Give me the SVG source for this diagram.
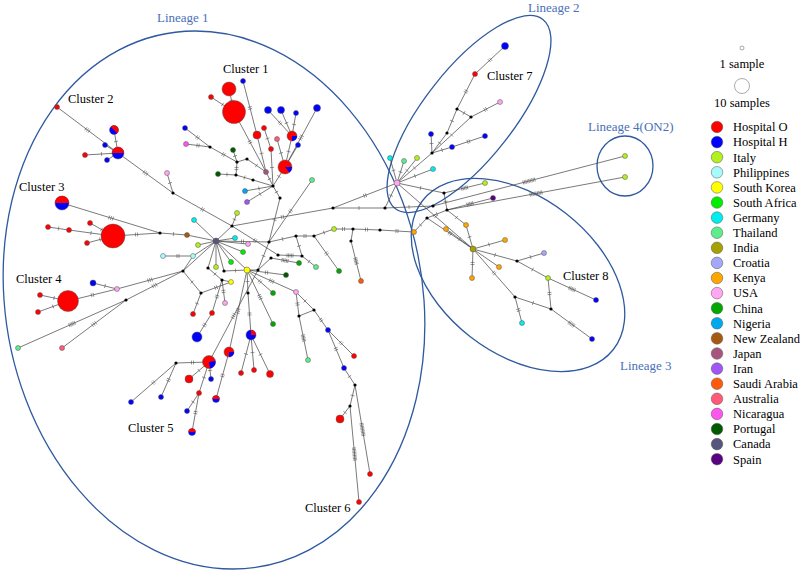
<svg xmlns="http://www.w3.org/2000/svg" width="800" height="571" viewBox="0 0 800 571">
<style>
text{font-family:"Liberation Serif","Times New Roman",serif;font-size:12.5px;fill:#000}
.lin{fill:#4a70b8;font-size:13px}
.ell{fill:none;stroke:#2f5aa0;stroke-width:1.3}
.e{fill:none;stroke:#404040;stroke-width:.7}
.t1{marker-mid:url(#k1)}.t2{marker-mid:url(#k2)}.t3{marker-mid:url(#k3)}.t4{marker-mid:url(#k4)}.t7{marker-mid:url(#k7)}
circle{stroke:#555;stroke-width:.5}
.m{fill:#000;stroke:none}
.ho{fill:#ff0000}.hh{fill:#0000ff}.it{fill:#b2f020}.ph{fill:#a8fafa}.sk{fill:#ffff00}.sa{fill:#00ee00}.ge{fill:#00eeee}.th{fill:#5eec8c}.in{fill:#a6a000}.cr{fill:#a4a8f8}.ke{fill:#ffa500}.us{fill:#ffa6f0}.cn{fill:#00a800}.ng{fill:#00a8f0}.nz{fill:#a65a10}.jp{fill:#a8557d}.ir{fill:#a055f5}.sd{fill:#ff5a0a}.au{fill:#ff5a78}.ni{fill:#ff55f0}.pt{fill:#005a00}.ca{fill:#55557d}.es{fill:#5a0082}
.pr{fill:#ff0000;stroke:none}.pb{fill:#0000ff;stroke:none}
</style>
<defs>
<marker id="k1" markerUnits="userSpaceOnUse" orient="auto" overflow="visible" markerWidth="1" markerHeight="1"><path d="M0,-2V2" stroke="#555" stroke-width=".6"/></marker>
<marker id="k2" markerUnits="userSpaceOnUse" orient="auto" overflow="visible" markerWidth="1" markerHeight="1"><path d="M-1,-2V2M1,-2V2" stroke="#555" stroke-width=".6"/></marker>
<marker id="k3" markerUnits="userSpaceOnUse" orient="auto" overflow="visible" markerWidth="1" markerHeight="1"><path d="M-2,-2V2M0,-2V2M2,-2V2" stroke="#555" stroke-width=".6"/></marker>
<marker id="k4" markerUnits="userSpaceOnUse" orient="auto" overflow="visible" markerWidth="1" markerHeight="1"><path d="M-3,-2V2M-1.5,-2V2M0,-2V2M1.5,-2V2M3,-2V2" stroke="#555" stroke-width=".6"/></marker>
<marker id="k7" markerUnits="userSpaceOnUse" orient="auto" overflow="visible" markerWidth="1" markerHeight="1"><path d="M-6,-2V2M-4.5,-2V2M-3,-2V2M-1.5,-2V2M0,-2V2M1.5,-2V2M3,-2V2M4.5,-2V2M6,-2V2" stroke="#555" stroke-width=".6"/></marker>
</defs>
<rect width="800" height="571" fill="#fff"/>
<g id="lineages">
<ellipse class="ell" cx="0" cy="0" rx="210" ry="269" transform="translate(214,300) skewX(4)"/>
<ellipse class="ell" cx="0" cy="0" rx="120" ry="45" transform="translate(469,114) rotate(-52)"/>
<ellipse class="ell" cx="0" cy="0" rx="121" ry="78" transform="translate(518,275) rotate(38)"/>
<ellipse class="ell" cx="625" cy="166" rx="28" ry="30"/>
<text class="lin" x="157" y="22">Lineage 1</text>
<text class="lin" x="528" y="12">Lineage 2</text>
<text class="lin" x="620" y="370">Lineage 3</text>
<text class="lin" x="588" y="131">Lineage 4(ON2)</text>
</g>
<g id="connectors">
<path class="e t3" d="M57 107L87.5 130L118 153"/>
<path class="e t1" d="M114 130L116 141.5L118 153"/>
<path class="e" d="M105 145L118 153"/>
<path class="e t1" d="M85 155L101.5 154L118 153"/>
<path class="e" d="M107 160L118 153"/>
<path class="e t3" d="M118 153L145.5 173L173 193"/>
<path class="e t1" d="M167 173L170 183L173 193"/>
<path class="e t2" d="M173 193L202.5 209.5L232 226"/>
<path class="e t3" d="M62 203L111 218L160 233"/>
<path class="e t1" d="M48 227L58.5 228.5L69 230"/>
<path class="e t1" d="M69 230L91 233L113 236"/>
<path class="e t1" d="M90 223L101.5 229.5L113 236"/>
<path class="e t1" d="M87 243L100 239.5L113 236"/>
<path class="e t2" d="M113 236L136.5 234.5L160 233"/>
<path class="e t1" d="M160 233L173.5 234L187 235"/>
<path class="e" d="M187 235L216 241"/>
<path class="e" d="M216 241L194 220M216 241L198 245M216 241L193 256M216 241L216 267M216 241L231 262M216 241L243 252M216 241L248 244M216 241L235 238M216 241L232 226M216 241L183 271M216 241L208 268M216 241L224 271M216 241L247 270"/>
<path class="e t2" d="M193 256L178 256L163 256"/>
<path class="e t2" d="M216 241L242.5 241.5L269 242"/>
<path class="e t1" d="M40 295L54 298L68 301"/>
<path class="e t1" d="M38 312L53 306.5L68 301"/>
<path class="e t2" d="M68 301L92.5 295L117 289"/>
<path class="e t1" d="M93 283L105 286L117 289"/>
<path class="e t3" d="M117 289L150 280L183 271"/>
<path class="e t4" d="M18 348L72 324L126 300"/>
<path class="e t3" d="M62 348L94 324L126 300"/>
<path class="e t3" d="M126 300L154.5 285.5L183 271"/>
<path class="e" d="M183 271L193 256"/>
<path class="e t1" d="M183 271L192 282L201 293"/>
<path class="e t1" d="M201 293L197 303.5L193 314"/>
<path class="e t2" d="M201 293L216 287.5L231 282"/>
<path class="e t1" d="M208 268L215 274L222 280"/>
<path class="e" d="M222 280L231 282"/>
<path class="e t2" d="M222 280L223.5 291.5L225 303"/>
<path class="e t2" d="M222 280L217 296.5L212 313"/>
<path class="e t2" d="M212 313L204.5 325L197 337"/>
<path class="e t1" d="M247 270L235.5 270.5L224 271"/>
<path class="e" d="M247 270L258 270"/>
<path class="e t1" d="M247 270L247.5 281.5L248 293"/>
<path class="e t2" d="M247 270L260 281.5L273 293"/>
<path class="e t3" d="M247 270L271.5 281L296 292"/>
<path class="e t2" d="M247 270L266.5 272.5L286 275"/>
<path class="e t3" d="M247 270L260 297L273 324"/>
<path class="e t2" d="M248 293L249.5 314L251 335"/>
<path class="e t1" d="M258 270L263.5 256L269 242"/>
<path class="e t3" d="M247 270L238 311L229 352"/>
<path class="e t3" d="M258 270L233.5 316L209 362"/>
<path class="e t2" d="M232 226L255 240.5L278 255"/>
<path class="e t4" d="M278 255L290 255.5L302 256"/>
<path class="e t1" d="M302 256L309 261.5L316 267"/>
<path class="e" d="M258 270L271 258"/>
<path class="e t4" d="M271 258L285 260.5L299 263"/>
<path class="e t1" d="M269 242L282.5 239L296 236"/>
<path class="e t2" d="M296 236L305 236L314 236"/>
<path class="e t1" d="M314 236L324 232.5L334 229"/>
<path class="e t2" d="M334 229L343.5 229L353 229"/>
<path class="e t1" d="M296 236L299 246L302 256"/>
<path class="e t2" d="M314 236L326.5 253.5L339 271"/>
<path class="e" d="M353 229L351 241"/>
<path class="e t4" d="M351 241L356 261L361 281"/>
<path class="e t2" d="M353 229L366.5 229.5L380 230"/>
<path class="e t2" d="M380 230L397 231L414 232"/>
<path class="e t2" d="M232 226L282.5 217L333 208"/>
<path class="e t2" d="M333 208L365 195.5L397 183"/>
<path class="e t1" d="M333 208L359 208L385 208"/>
<path class="e t1" d="M385 208L391 195.5L397 183"/>
<path class="e t1" d="M385 208L409 207L433 206"/>
<path class="e t1" d="M414 232L420.5 225L427 218"/>
<path class="e t1" d="M229 89L231.5 100.5L234 112"/>
<path class="e t1" d="M211 97L222.5 104.5L234 112"/>
<path class="e t2" d="M234 112L250 142L266 172"/>
<path class="e t2" d="M243 81L250 108L257 135"/>
<path class="e t1" d="M257 135L261.5 153.5L266 172"/>
<path class="e t1" d="M264 128L267.5 138.5L271 149"/>
<path class="e t1" d="M271 149L272 167.5L273 186"/>
<path class="e t1" d="M277 139L281 153L285 167"/>
<path class="e t2" d="M268 110L280 123L292 136"/>
<path class="e t1" d="M281 110L286.5 123L292 136"/>
<path class="e t1" d="M296 113L294 124.5L292 136"/>
<path class="e t1" d="M292 136L288.5 151.5L285 167"/>
<path class="e" d="M298 145L285 167"/>
<path class="e t3" d="M317 108L301 137.5L285 167"/>
<path class="e t1" d="M266 172L269.5 179L273 186"/>
<path class="e t1" d="M285 167L279 176.5L273 186"/>
<path class="e" d="M273 186L253 180"/>
<path class="e t1" d="M253 180L244.5 177.5L236 175"/>
<path class="e t1" d="M236 175L227 174.5L218 174"/>
<path class="e t2" d="M236 175L236.5 168.5L237 162"/>
<path class="e t2" d="M237 162L223.5 154.5L210 147"/>
<path class="e t2" d="M210 147L197.5 137.5L185 128"/>
<path class="e t2" d="M210 147L198 145.5L186 144"/>
<path class="e t1" d="M237 162L235 156L233 150"/>
<path class="e" d="M237 162L247 159"/>
<path class="e t1" d="M247 159L256.5 165.5L266 172"/>
<path class="e t1" d="M273 186L259 188.5L245 191"/>
<path class="e t1" d="M273 186L260 194L247 202"/>
<path class="e t1" d="M273 186L276.5 192L280 198"/>
<path class="e t1" d="M280 198L274.5 220L269 242"/>
<path class="e t2" d="M312 180L290.5 211L269 242"/>
<path class="e t1" d="M237 213L234.5 219.5L232 226"/>
<path class="e t2" d="M296 292L297.5 304L299 316"/>
<path class="e t1" d="M296 292L305 301L314 310"/>
<path class="e" d="M299 316L314 310"/>
<path class="e t4" d="M299 316L303.5 338L308 360"/>
<path class="e t2" d="M314 310L321 320L328 330"/>
<path class="e t2" d="M328 330L341 343L354 356"/>
<path class="e t2" d="M328 330L336 349L344 368"/>
<path class="e t1" d="M344 368L349.5 376.5L355 385"/>
<path class="e t1" d="M355 385L352.5 395.5L350 406"/>
<path class="e t1" d="M350 406L345 412.5L340 419"/>
<path class="e t7" d="M350 406L354.5 454L359 502"/>
<path class="e t7" d="M355 385L362.5 429.5L370 474"/>
<path class="e t1" d="M251 335L246 354L241 373"/>
<path class="e t1" d="M251 335L252.5 352.5L254 370"/>
<path class="e t1" d="M251 335L260.5 354.5L270 374"/>
<path class="e t2" d="M229 352L222.5 375.5L216 399"/>
<path class="e t2" d="M209 362L192.5 362.5L176 363"/>
<path class="e t2" d="M176 363L153.5 382.5L131 402"/>
<path class="e t2" d="M176 363L168.5 380L161 397"/>
<path class="e t1" d="M209 362L199 370.5L189 379"/>
<path class="e t1" d="M209 362L210 370.5L211 379"/>
<path class="e t1" d="M209 362L204 377.5L199 393"/>
<path class="e t1" d="M199 393L193 402L187 411"/>
<path class="e t2" d="M199 393L195.5 412.5L192 432"/>
<path class="e t1" d="M397 183L393.5 170.5L390 158"/>
<path class="e t1" d="M397 183L400.5 172L404 161"/>
<path class="e t1" d="M397 183L407 170.5L417 158"/>
<path class="e t1" d="M397 183L415 176L433 169"/>
<path class="e t1" d="M397 183L414.5 168L432 153"/>
<path class="e t1" d="M432 153L431.5 143.5L431 134"/>
<path class="e t1" d="M432 153L442 150L452 147"/>
<path class="e t2" d="M452 147L468.5 141.5L485 136"/>
<path class="e t1" d="M432 153L439.5 143L447 133"/>
<path class="e t1" d="M447 133L452 121L457 109"/>
<path class="e t1" d="M432 153L451.5 135L471 117"/>
<path class="e t1" d="M457 109L464 113L471 117"/>
<path class="e t2" d="M471 117L485.5 109.5L500 102"/>
<path class="e t2" d="M457 109L466 91.5L475 74"/>
<path class="e t2" d="M475 74L490 60L505 46"/>
<path class="e t1" d="M397 183L420.5 188L444 193"/>
<path class="e t4" d="M444 193L464.5 188L485 183"/>
<path class="e t1" d="M444 193L445.5 201.5L447 210"/>
<path class="e t4" d="M447 210L470 204L493 198"/>
<path class="e t7" d="M433 206L529 181L625 156"/>
<path class="e t7" d="M447 210L536 193.5L625 177"/>
<path class="e t2" d="M397 183L435 216L473 249"/>
<path class="e t2" d="M427 218L450 233.5L473 249"/>
<path class="e t1" d="M446 229L459.5 239L473 249"/>
<path class="e t1" d="M447 210L456.5 217.5L466 225"/>
<path class="e t1" d="M466 225L469.5 237L473 249"/>
<path class="e t1" d="M473 249L489 244.5L505 240"/>
<path class="e" d="M473 249L499 267"/>
<path class="e t2" d="M473 249L472.5 263.5L472 278"/>
<path class="e t1" d="M473 249L495 255L517 261"/>
<path class="e t2" d="M473 249L494 273L515 297"/>
<path class="e t1" d="M517 261L530.5 257L544 253"/>
<path class="e t1" d="M517 261L532.5 269.5L548 278"/>
<path class="e t4" d="M548 278L572 289L596 300"/>
<path class="e t2" d="M548 278L549.5 293.5L551 309"/>
<path class="e t2" d="M515 297L518.5 310L522 323"/>
<path class="e t1" d="M515 297L533 303L551 309"/>
<path class="e t4" d="M551 309L571.5 324L592 339"/>
<path class="e t1" d="M427 218L437 214L447 210"/>
</g>
<g id="medians">
<circle class="m" cx="173" cy="193" r="1.6"/><circle class="m" cx="232" cy="226" r="1.6"/><circle class="m" cx="160" cy="233" r="1.6"/><circle class="m" cx="126" cy="300" r="1.6"/><circle class="m" cx="183" cy="271" r="1.6"/><circle class="m" cx="201" cy="293" r="1.6"/><circle class="m" cx="208" cy="268" r="1.6"/><circle class="m" cx="222" cy="280" r="1.6"/><circle class="m" cx="224" cy="271" r="1.6"/><circle class="m" cx="258" cy="270" r="1.6"/><circle class="m" cx="248" cy="293" r="1.6"/><circle class="m" cx="278" cy="255" r="1.6"/><circle class="m" cx="302" cy="256" r="1.6"/><circle class="m" cx="271" cy="258" r="1.6"/><circle class="m" cx="269" cy="242" r="1.6"/><circle class="m" cx="296" cy="236" r="1.6"/><circle class="m" cx="314" cy="236" r="1.6"/><circle class="m" cx="353" cy="229" r="1.6"/><circle class="m" cx="351" cy="241" r="1.6"/><circle class="m" cx="380" cy="230" r="1.6"/><circle class="m" cx="333" cy="208" r="1.6"/><circle class="m" cx="385" cy="208" r="1.6"/><circle class="m" cx="210" cy="147" r="1.6"/><circle class="m" cx="237" cy="162" r="1.6"/><circle class="m" cx="247" cy="159" r="1.6"/><circle class="m" cx="236" cy="175" r="1.6"/><circle class="m" cx="253" cy="180" r="1.6"/><circle class="m" cx="273" cy="186" r="1.6"/><circle class="m" cx="280" cy="198" r="1.6"/><circle class="m" cx="299" cy="316" r="1.6"/><circle class="m" cx="314" cy="310" r="1.6"/><circle class="m" cx="355" cy="385" r="1.6"/><circle class="m" cx="350" cy="406" r="1.6"/><circle class="m" cx="176" cy="363" r="1.6"/><circle class="m" cx="432" cy="153" r="1.6"/><circle class="m" cx="447" cy="133" r="1.6"/><circle class="m" cx="457" cy="109" r="1.6"/><circle class="m" cx="471" cy="117" r="1.6"/><circle class="m" cx="444" cy="193" r="1.6"/><circle class="m" cx="433" cy="206" r="1.6"/><circle class="m" cx="447" cy="210" r="1.6"/><circle class="m" cx="427" cy="218" r="1.6"/><circle class="m" cx="517" cy="261" r="1.6"/><circle class="m" cx="515" cy="297" r="1.6"/><circle class="m" cx="551" cy="309" r="1.6"/>
</g>
<g id="nodes">
<g id="c2a"><circle class="ho" cx="57" cy="107" r="2.5"/></g>
<g id="c2p1"><circle class="hh" cx="114" cy="130" r="4.5"/><path class="pr" d="M110.8 126.8A4.5 4.5 0 0 1 117.2 133.2Z"/></g>
<g id="c2b"><circle class="hh" cx="105" cy="145" r="2.5"/></g>
<g id="c2r"><circle class="ho" cx="85" cy="155" r="2.5"/></g>
<g id="c2bb"><circle class="hh" cx="107" cy="160" r="2.5"/></g>
<g id="c2c"><circle class="hh" cx="118" cy="153" r="6"/><path class="pr" d="M112 153A6 6 0 0 1 124 153Z"/></g>
<g id="pk1"><circle class="us" cx="167" cy="173" r="2.5"/></g>
<g id="c3p"><circle class="hh" cx="62" cy="203" r="7"/><path class="pr" d="M55 203A7 7 0 0 1 69 203Z"/></g>
<g id="c3r1"><circle class="ho" cx="48" cy="227" r="2.5"/></g>
<g id="c3r2"><circle class="ho" cx="69" cy="230" r="2.5"/></g>
<g id="c3r3"><circle class="ho" cx="90" cy="223" r="2.5"/></g>
<g id="c3r4"><circle class="ho" cx="87" cy="243" r="2.5"/></g>
<g id="c3big"><circle class="ho" cx="113" cy="236" r="12"/></g>
<g id="nz1"><circle class="nz" cx="187" cy="235" r="2.5"/></g>
<g id="ge1"><circle class="ge" cx="194" cy="220" r="2.5"/></g>
<g id="it1"><circle class="it" cx="198" cy="245" r="2.5"/></g>
<g id="ph1"><circle class="ph" cx="193" cy="256" r="2.5"/></g>
<g id="ph2"><circle class="ph" cx="163" cy="256" r="2.5"/></g>
<g id="it2"><circle class="it" cx="216" cy="267" r="2.5"/></g>
<g id="sa1"><circle class="sa" cx="231" cy="262" r="2.5"/></g>
<g id="sa2"><circle class="sa" cx="243" cy="252" r="2.5"/></g>
<g id="us2"><circle class="us" cx="248" cy="244" r="2.5"/></g>
<g id="ge2"><circle class="ge" cx="235" cy="238" r="2.5"/></g>
<g id="ca1"><circle class="ca" cx="216" cy="241" r="3"/></g>
<g id="c4big"><circle class="ho" cx="68" cy="301" r="10.5"/></g>
<g id="c4r1"><circle class="ho" cx="40" cy="295" r="2.5"/></g>
<g id="c4r2"><circle class="ho" cx="38" cy="312" r="2.5"/></g>
<g id="c4b"><circle class="hh" cx="93" cy="283" r="3"/></g>
<g id="us3"><circle class="us" cx="117" cy="289" r="2.5"/></g>
<g id="th1"><circle class="th" cx="18" cy="348" r="2.5"/></g>
<g id="au1"><circle class="au" cx="62" cy="348" r="2.5"/></g>
<g id="r1"><circle class="ho" cx="193" cy="314" r="2.5"/></g>
<g id="sk2"><circle class="sk" cx="231" cy="282" r="2.5"/></g>
<g id="us4"><circle class="us" cx="225" cy="303" r="2.5"/></g>
<g id="r2"><circle class="ho" cx="212" cy="313" r="2.5"/></g>
<g id="bbig"><circle class="hh" cx="197" cy="337" r="5"/></g>
<g id="sk1"><circle class="sk" cx="247" cy="270" r="3"/></g>
<g id="cn1"><circle class="cn" cx="273" cy="293" r="2.5"/></g>
<g id="us5"><circle class="us" cx="296" cy="292" r="2.5"/></g>
<g id="pt1"><circle class="pt" cx="286" cy="275" r="2.5"/></g>
<g id="cn2"><circle class="cn" cx="273" cy="324" r="2.5"/></g>
<g id="th2"><circle class="th" cx="316" cy="267" r="2.5"/></g>
<g id="cn4"><circle class="cn" cx="299" cy="263" r="2.5"/></g>
<g id="it3"><circle class="it" cx="334" cy="229" r="2.5"/></g>
<g id="cn3"><circle class="cn" cx="339" cy="271" r="2.5"/></g>
<g id="sd1"><circle class="sd" cx="361" cy="281" r="2.5"/></g>
<g id="ke1"><circle class="ke" cx="414" cy="232" r="2.5"/></g>
<g id="cl1a"><circle class="ho" cx="229" cy="89" r="7"/></g>
<g id="cl1b"><circle class="ho" cx="211" cy="97" r="2.5"/></g>
<g id="cl1c"><circle class="ho" cx="234" cy="112" r="11.5"/></g>
<g id="cl1d"><circle class="hh" cx="243" cy="81" r="2.5"/></g>
<g id="cl1e"><circle class="hh" cx="268" cy="110" r="3.5"/></g>
<g id="cl1f"><circle class="hh" cx="281" cy="110" r="3.5"/></g>
<g id="cl1g"><circle class="hh" cx="296" cy="113" r="2.5"/></g>
<g id="cl1h"><circle class="hh" cx="317" cy="108" r="3.5"/></g>
<g id="cl1i"><circle class="ho" cx="257" cy="135" r="4"/></g>
<g id="cl1j"><circle class="ho" cx="264" cy="128" r="2.5"/></g>
<g id="au2"><circle class="au" cx="277" cy="139" r="2.5"/></g>
<g id="pie1"><circle class="ho" cx="292" cy="136" r="5"/><path class="pb" d="M292 136L297 136A5 5 0 0 1 292 141Z"/></g>
<g id="cl1k"><circle class="hh" cx="298" cy="145" r="2.5"/></g>
<g id="cl1l"><circle class="ho" cx="271" cy="149" r="2.5"/></g>
<g id="pie2"><circle class="ho" cx="285" cy="167" r="7"/><path class="pb" d="M285 167L292 167A7 7 0 0 1 289.5 172.4Z"/></g>
<g id="jp1"><circle class="jp" cx="266" cy="172" r="2.5"/></g>
<g id="pt2"><circle class="pt" cx="233" cy="150" r="2.5"/></g>
<g id="pt3"><circle class="pt" cx="218" cy="174" r="2.5"/></g>
<g id="ng1"><circle class="ng" cx="245" cy="191" r="2.5"/></g>
<g id="ir1"><circle class="ir" cx="247" cy="202" r="2.5"/></g>
<g id="hb1"><circle class="hh" cx="185" cy="128" r="2.5"/></g>
<g id="ni1"><circle class="ni" cx="186" cy="144" r="2.5"/></g>
<g id="th3"><circle class="th" cx="312" cy="180" r="2.5"/></g>
<g id="it9"><circle class="it" cx="237" cy="213" r="2.5"/></g>
<g id="th5"><circle class="th" cx="308" cy="360" r="2.5"/></g>
<g id="hb8"><circle class="hh" cx="328" cy="330" r="2.5"/></g>
<g id="r8"><circle class="ho" cx="354" cy="356" r="2.5"/></g>
<g id="hb9"><circle class="hh" cx="344" cy="368" r="2.5"/></g>
<g id="r9"><circle class="ho" cx="340" cy="419" r="4"/></g>
<g id="r10"><circle class="ho" cx="359" cy="502" r="2.5"/></g>
<g id="r11"><circle class="ho" cx="370" cy="474" r="2.5"/></g>
<g id="pieA"><circle class="hh" cx="251" cy="335" r="5"/><path class="pr" d="M251 335L251 330A5 5 0 0 1 256 335Z"/></g>
<g id="r12"><circle class="ho" cx="241" cy="373" r="2.5"/></g>
<g id="r13"><circle class="ho" cx="254" cy="370" r="2.5"/></g>
<g id="r14"><circle class="ho" cx="270" cy="374" r="3.5"/></g>
<g id="pieB"><circle class="ho" cx="229" cy="352" r="5"/><path class="pb" d="M229 352L234 352A5 5 0 0 1 229 357Z"/></g>
<g id="pieC"><circle class="ho" cx="209" cy="362" r="6.5"/><path class="pb" d="M209 362L215.4 360.9A6.5 6.5 0 0 1 210.1 368.4Z"/></g>
<g id="pie3"><circle class="hh" cx="216" cy="399" r="3.5"/><path class="pr" d="M212.5 399A3.5 3.5 0 0 1 219.5 399Z"/></g>
<g id="hb10"><circle class="hh" cx="131" cy="402" r="2.5"/></g>
<g id="hb11"><circle class="hh" cx="161" cy="397" r="2.5"/></g>
<g id="r15"><circle class="ho" cx="189" cy="379" r="4"/></g>
<g id="hb12"><circle class="hh" cx="211" cy="379" r="2.5"/></g>
<g id="r16"><circle class="ho" cx="199" cy="393" r="2.5"/></g>
<g id="hb13"><circle class="hh" cx="187" cy="411" r="2.5"/></g>
<g id="pie4"><circle class="hh" cx="192" cy="432" r="3.5"/><path class="pr" d="M188.5 432A3.5 3.5 0 0 1 195.5 432Z"/></g>
<g id="us6"><circle class="us" cx="397" cy="183" r="3"/></g>
<g id="ge4"><circle class="ge" cx="390" cy="158" r="2.5"/></g>
<g id="th4"><circle class="th" cx="404" cy="161" r="2.5"/></g>
<g id="it8"><circle class="it" cx="417" cy="158" r="2.5"/></g>
<g id="ge5"><circle class="ge" cx="433" cy="169" r="2.5"/></g>
<g id="hb3"><circle class="hh" cx="431" cy="134" r="2.5"/></g>
<g id="hb4"><circle class="hh" cx="452" cy="147" r="2.5"/></g>
<g id="hb5"><circle class="hh" cx="485" cy="136" r="2.5"/></g>
<g id="us7"><circle class="us" cx="500" cy="102" r="2.5"/></g>
<g id="r7"><circle class="ho" cx="475" cy="74" r="2.5"/></g>
<g id="hb6"><circle class="hh" cx="505" cy="46" r="3.5"/></g>
<g id="it4"><circle class="it" cx="485" cy="183" r="2.5"/></g>
<g id="es1"><circle class="es" cx="493" cy="198" r="2.5"/></g>
<g id="it5"><circle class="it" cx="625" cy="156" r="2.5"/></g>
<g id="it6"><circle class="it" cx="625" cy="177" r="2.5"/></g>
<g id="in1"><circle class="in" cx="473" cy="249" r="3"/></g>
<g id="ke2"><circle class="ke" cx="446" cy="229" r="2.5"/></g>
<g id="ke3"><circle class="ke" cx="466" cy="225" r="2.5"/></g>
<g id="ke4"><circle class="ke" cx="505" cy="240" r="2.5"/></g>
<g id="ke5"><circle class="ke" cx="499" cy="267" r="2.5"/></g>
<g id="ke6"><circle class="ke" cx="472" cy="278" r="2.5"/></g>
<g id="cr1"><circle class="cr" cx="544" cy="253" r="2.5"/></g>
<g id="it7"><circle class="it" cx="548" cy="278" r="2.5"/></g>
<g id="hb14"><circle class="hh" cx="596" cy="300" r="2.5"/></g>
<g id="ge3"><circle class="ge" cx="522" cy="323" r="2.5"/></g>
<g id="hb15"><circle class="hh" cx="592" cy="339" r="2.5"/></g>
</g>
<g id="labels">
<text x="223" y="73">Cluster 1</text>
<text x="68" y="103">Cluster 2</text>
<text x="19" y="191">Cluster 3</text>
<text x="16" y="283">Cluster 4</text>
<text x="128" y="432">Cluster 5</text>
<text x="305" y="512">Cluster 6</text>
<text x="487" y="80">Cluster 7</text>
<text x="563" y="280">Cluster 8</text>
</g>
<g id="legend">
<circle cx="742" cy="48" r="2" fill="#fff" stroke="#000" stroke-width=".8"/>
<text x="742" y="68" text-anchor="middle">1 sample</text>
<circle cx="742" cy="86" r="7.5" fill="#fff" stroke="#000" stroke-width=".9"/>
<text x="742" y="107" text-anchor="middle">10 samples</text>
<circle class="ho" cx="717" cy="127" r="5.8"/><text x="733" y="131.3">Hospital O</text>
<circle class="hh" cx="717" cy="142.1" r="5.8"/><text x="733" y="146.4">Hospital H</text>
<circle class="it" cx="717" cy="157.2" r="5.8"/><text x="733" y="161.5">Italy</text>
<circle class="ph" cx="717" cy="172.3" r="5.8"/><text x="733" y="176.6">Philippines</text>
<circle class="sk" cx="717" cy="187.4" r="5.8"/><text x="733" y="191.7">South Korea</text>
<circle class="sa" cx="717" cy="202.5" r="5.8"/><text x="733" y="206.8">South Africa</text>
<circle class="ge" cx="717" cy="217.6" r="5.8"/><text x="733" y="221.9">Germany</text>
<circle class="th" cx="717" cy="232.7" r="5.8"/><text x="733" y="237">Thailand</text>
<circle class="in" cx="717" cy="247.8" r="5.8"/><text x="733" y="252.1">India</text>
<circle class="cr" cx="717" cy="262.9" r="5.8"/><text x="733" y="267.2">Croatia</text>
<circle class="ke" cx="717" cy="278" r="5.8"/><text x="733" y="282.3">Kenya</text>
<circle class="us" cx="717" cy="293.1" r="5.8"/><text x="733" y="297.4">USA</text>
<circle class="cn" cx="717" cy="308.2" r="5.8"/><text x="733" y="312.5">China</text>
<circle class="ng" cx="717" cy="323.3" r="5.8"/><text x="733" y="327.6">Nigeria</text>
<circle class="nz" cx="717" cy="338.4" r="5.8"/><text x="733" y="342.7">New Zealand</text>
<circle class="jp" cx="717" cy="353.5" r="5.8"/><text x="733" y="357.8">Japan</text>
<circle class="ir" cx="717" cy="368.6" r="5.8"/><text x="733" y="372.9">Iran</text>
<circle class="sd" cx="717" cy="383.7" r="5.8"/><text x="733" y="388">Saudi Arabia</text>
<circle class="au" cx="717" cy="398.8" r="5.8"/><text x="733" y="403.1">Australia</text>
<circle class="ni" cx="717" cy="413.9" r="5.8"/><text x="733" y="418.2">Nicaragua</text>
<circle class="pt" cx="717" cy="429" r="5.8"/><text x="733" y="433.3">Portugal</text>
<circle class="ca" cx="717" cy="444.1" r="5.8"/><text x="733" y="448.4">Canada</text>
<circle class="es" cx="717" cy="459.2" r="5.8"/><text x="733" y="463.5">Spain</text>
</g>
</svg>
